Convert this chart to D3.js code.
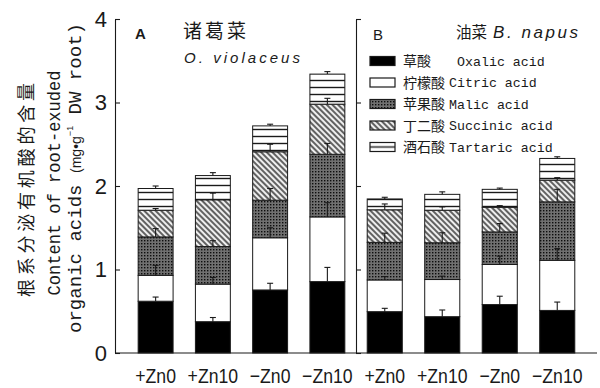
<!DOCTYPE html>
<html>
<head>
<meta charset="utf-8">
<script src="https://cdn.jsdelivr.net/npm/d3@7"></script>
<style>
  body { margin: 0; background: #fff; }
  svg { display: block; }
</style>
</head>
<body>
<svg id="chart" width="600" height="388"></svg>
<script>
// categories
const groups = ["+Zn0", "+Zn10", "−Zn0", "−Zn10"];
const acidKeys = ["oxalic", "citric", "malic", "succinic", "tartaric"];
const acidNamesCn = ["草酸", "柠檬酸", "苹果酸", "丁二酸", "酒石酸"];
const acidNamesEn = ["Oxalic acid", "Citric acid", "Malic acid", "Succinic acid", "Tartaric acid"];
const yTicks = [0, 1, 2, 3, 4];

// A: O. violaceus (mg/g DW root)
const oxalicA   = [0.62, 0.375, 0.755, 0.855];
const citricA   = [0.31, 0.45, 0.625, 0.775];
const malicA    = [0.46, 0.45, 0.45, 0.75];
const succinicA = [0.32, 0.56, 0.58, 0.60];
const tartaricA = [0.26, 0.29, 0.31, 0.36];
const oxalicErrA   = [0.05, 0.05, 0.08, 0.17];
const citricErrA   = [0.12, 0.08, 0.12, 0.17];
const malicErrA    = [0.10, 0.07, 0.14, 0.13];
const succinicErrA = [0.02, 0.08, 0.09, 0.07];
const tartaricErrA = [0.03, 0.035, 0.02, 0.03];

// B: B. napus
const oxalicB   = [0.495, 0.435, 0.58, 0.51];
const citricB   = [0.38, 0.445, 0.48, 0.60];
const malicB    = [0.45, 0.44, 0.39, 0.70];
const succinicB = [0.39, 0.39, 0.295, 0.26];
const tartaricB = [0.13, 0.19, 0.215, 0.26];
const oxalicErrB   = [0.04, 0.08, 0.10, 0.10];
const citricErrB   = [0.04, 0.04, 0.10, 0.14];
const malicErrB    = [0.11, 0.12, 0.10, 0.15];
const succinicErrB = [0.07, 0.04, 0.02, 0.03];
const tartaricErrB = [0.02, 0.03, 0.015, 0.02];

const svg = d3.select("#chart");
const ink = "#1a1a1a";
const mono = "'Liberation Mono', 'DejaVu Sans Mono', monospace";
const sans = "'Liberation Sans', Arial, sans-serif";
const cjk = "'Noto Sans CJK SC', sans-serif";

const y = d3.scaleLinear().domain([0, 4]).range([353, 19]);
const xA = d3.scaleBand().domain(groups).range([127, 356]).paddingInner(0.39).paddingOuter(0.195);
const xB = d3.scaleBand().domain(groups).range([356, 586]).paddingInner(0.39).paddingOuter(0.195);

// patterns
const defs = svg.append("defs");
const dots = defs.append("pattern").attr("id", "malic")
    .attr("patternUnits", "userSpaceOnUse").attr("width", 3).attr("height", 3);
dots.append("rect").attr("width", 3).attr("height", 3).attr("fill", "#707070");
dots.append("rect").attr("width", 1.4).attr("height", 1.4).attr("fill", "#0d0d0d");

const diag = defs.append("pattern").attr("id", "succinic")
    .attr("patternUnits", "userSpaceOnUse").attr("width", 4).attr("height", 4)
    .attr("patternTransform", "rotate(-45)");
diag.append("rect").attr("width", 4).attr("height", 4).attr("fill", "#eeeeee");
diag.append("line").attr("x1", 1).attr("x2", 1).attr("y1", 0).attr("y2", 4)
    .attr("stroke", "#333").attr("stroke-width", 1.5);

function hLines(id, offset) {
  const p = defs.append("pattern").attr("id", id)
      .attr("patternUnits", "userSpaceOnUse").attr("width", 10).attr("height", 7)
      .attr("y", offset);
  p.append("rect").attr("width", 10).attr("height", 7).attr("fill", "#fff");
  p.append("line").attr("x1", 0).attr("x2", 10).attr("y1", 3.5).attr("y2", 3.5)
      .attr("stroke", ink).attr("stroke-width", 1.4);
}
hLines("tartaric", 0);
hLines("tartaricLegend", 3.5);

const fills = {
  oxalic: "#000", citric: "#fff", malic: "url(#malic)",
  succinic: "url(#succinic)", tartaric: "url(#tartaric)"
};

function drawPanel(x, cols, errs) {
  const rows = groups.map((g, i) => {
    const r = { group: g };
    acidKeys.forEach((k, j) => r[k] = cols[j][i]);
    return r;
  });
  const series = d3.stack().keys(acidKeys)(rows);
  const g = svg.append("g");

  g.selectAll("g.layer").data(series).join("g")
      .attr("class", "layer")
      .attr("fill", d => fills[d.key])
    .selectAll("rect").data(d => d).join("rect")
      .attr("x", d => x(d.data.group))
      .attr("width", x.bandwidth())
      .attr("y", d => y(d[1]))
      .attr("height", d => y(d[0]) - y(d[1]))
      .attr("stroke", ink)
      .attr("stroke-width", 1);

  const pts = [];
  series.forEach((s, si) => s.forEach((d, gi) => {
    pts.push({ cx: x(d.data.group) + x.bandwidth() / 2, top: d[1], e: errs[si][gi] });
  }));
  const eb = g.selectAll("g.err").data(pts).join("g").attr("class", "err")
      .attr("stroke", ink).attr("stroke-width", 1.1);
  eb.append("line")
      .attr("x1", d => d.cx).attr("x2", d => d.cx)
      .attr("y1", d => y(d.top)).attr("y2", d => y(d.top + d.e));
  eb.append("line")
      .attr("x1", d => d.cx - 3).attr("x2", d => d.cx + 3)
      .attr("y1", d => y(d.top + d.e)).attr("y2", d => y(d.top + d.e));

  // x labels
  const ax = g.append("g").attr("transform", `translate(0,${y(0)})`)
      .call(d3.axisBottom(x).tickSize(0).tickPadding(15));
  ax.select(".domain").remove();
  ax.selectAll("text")
      .attr("font-family", sans).attr("font-size", 21).attr("fill", ink)
      .each(function() {
        d3.select(this).attr("textLength", this.getComputedTextLength() * 0.84)
            .attr("lengthAdjust", "spacingAndGlyphs");
      });
}

drawPanel(xA, [oxalicA, citricA, malicA, succinicA, tartaricA],
  [oxalicErrA, citricErrA, malicErrA, succinicErrA, tartaricErrA]);
drawPanel(xB, [oxalicB, citricB, malicB, succinicB, tartaricB],
  [oxalicErrB, citricErrB, malicErrB, succinicErrB, tartaricErrB]);

// axes
const axA = svg.append("g").attr("transform", "translate(115,0)")
    .call(d3.axisLeft(y).tickValues(yTicks).tickFormat(d3.format("d"))
      .tickSizeInner(-5).tickSizeOuter(0).tickPadding(8));
axA.selectAll("text").attr("font-family", sans).attr("font-size", 22).attr("fill", ink);
const axB = svg.append("g").attr("transform", "translate(356,0)")
    .call(d3.axisLeft(y).tickValues(yTicks).tickFormat("")
      .tickSizeInner(-5).tickSizeOuter(0));
svg.selectAll(".domain, .tick line").attr("stroke", ink).attr("stroke-width", 1.1);

svg.append("line").attr("x1", 115).attr("x2", 597)
    .attr("y1", y(0)).attr("y2", y(0))
    .attr("stroke", ink).attr("stroke-width", 1.1);

// titles
svg.append("text").attr("x", 135).attr("y", 39).text("A")
    .attr("font-family", sans).attr("font-weight", "bold").attr("font-size", 15).attr("fill", ink);
svg.append("text").attr("x", 183).attr("y", 38).text("诸葛菜")
    .attr("font-family", cjk).attr("font-size", 19).attr("fill", ink)
    .attr("textLength", 63).attr("lengthAdjust", "spacing");
svg.append("text").attr("x", 184).attr("y", 63).text("O. violaceus")
    .attr("font-family", sans).attr("font-style", "italic").attr("font-size", 15).attr("fill", ink)
    .attr("textLength", 116).attr("lengthAdjust", "spacing");
svg.append("text").attr("x", 373).attr("y", 40).text("B")
    .attr("font-family", sans).attr("font-size", 15).attr("fill", ink);
svg.append("text").attr("x", 456).attr("y", 38).text("油菜")
    .attr("font-family", cjk).attr("font-size", 15.5).attr("fill", ink);
svg.append("text").attr("x", 493).attr("y", 38).text("B. napus")
    .attr("font-family", sans).attr("font-style", "italic").attr("font-size", 17).attr("fill", ink)
    .attr("textLength", 85).attr("lengthAdjust", "spacing");

// legend
const legY = d3.scalePoint().domain(acidKeys).range([61, 147]);
const leg = svg.append("g").selectAll("g").data(acidKeys).join("g")
    .attr("transform", d => `translate(0,${legY(d)})`);
leg.append("rect").attr("x", 370).attr("y", -4.5).attr("width", 25).attr("height", 9)
    .attr("fill", d => d === "tartaric" ? "url(#tartaricLegend)" : fills[d])
    .attr("stroke", ink).attr("stroke-width", 1.2);
leg.append("text").attr("x", 403).attr("y", 5).text((d, i) => acidNamesCn[i])
    .attr("font-family", cjk).attr("font-size", 14).attr("fill", ink);
leg.append("text").attr("x", (d, i) => i === 0 ? 457 : 449).attr("y", 4.5)
    .text((d, i) => acidNamesEn[i])
    .attr("font-family", mono).attr("font-size", 13.3).attr("fill", ink);

// y axis title
const yt = svg.append("g");
yt.append("text").attr("transform", "translate(33,190) rotate(-90)")
    .attr("text-anchor", "middle").text("根系分泌有机酸的含量")
    .attr("font-family", cjk).attr("font-size", 18).attr("fill", ink)
    .attr("textLength", 214).attr("lengthAdjust", "spacing");
yt.append("text").attr("transform", "translate(60,183) rotate(-90)")
    .attr("text-anchor", "middle").text("Content of root-exuded")
    .attr("font-family", mono).attr("font-size", 19).attr("fill", ink)
    .attr("textLength", 225).attr("lengthAdjust", "spacingAndGlyphs");
const l3 = yt.append("text").attr("transform", "translate(81,178) rotate(-90)")
    .attr("text-anchor", "middle")
    .attr("font-family", mono).attr("font-size", 19).attr("fill", ink)
    .attr("textLength", 310).attr("lengthAdjust", "spacingAndGlyphs");
l3.append("tspan").text("organic acids ");
l3.append("tspan").attr("font-family", sans).attr("font-size", 14).text("(mg•g");
l3.append("tspan").attr("font-family", sans).attr("font-size", 9).attr("dy", -8).text("−1");
l3.append("tspan").attr("dy", 8).text(" DW root)");
</script>
</body>
</html>
